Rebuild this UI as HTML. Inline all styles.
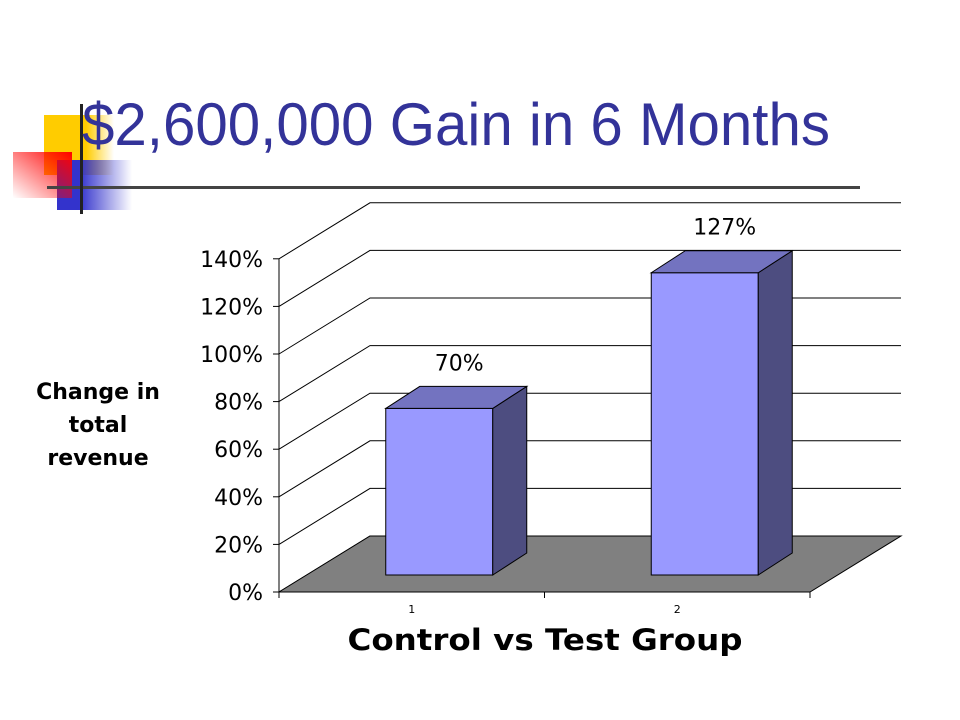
<!DOCTYPE html>
<html><head><meta charset="utf-8"><style>
body{margin:0;background:#fff;width:960px;height:720px;overflow:hidden}
svg{display:block;font-family:"DejaVu Sans","Liberation Sans",sans-serif}
</style></head><body>
<svg id="c" width="960" height="720">
<defs>
<linearGradient id="gy" x1="0" x2="1"><stop offset="0.6" stop-color="#ffcc00"/><stop offset="1" stop-color="#ffcc00" stop-opacity="0"/></linearGradient>
<linearGradient id="gr" x1="1" y1="0" x2="0" y2="1"><stop offset="0" stop-color="#ff0000"/><stop offset="1" stop-color="#ff0000" stop-opacity="0"/></linearGradient>
<linearGradient id="gb" x1="0" x2="1"><stop offset="0.3" stop-color="#3333cc"/><stop offset="1" stop-color="#3333cc" stop-opacity="0"/></linearGradient>
</defs>
<g>
<rect x="44" y="115" width="70" height="60" fill="url(#gy)"/>
<rect x="57" y="160" width="75" height="50" fill="url(#gb)"/>
<rect x="13" y="152" width="59" height="46" fill="url(#gr)"/>
<rect x="47" y="186" width="813" height="3" fill="#444"/>
<rect x="80" y="104" width="3" height="110" fill="#222"/>
</g>
<text x="82" y="145" font-size="60" fill="#333399" font-family="Liberation Sans, sans-serif" textLength="748" lengthAdjust="spacingAndGlyphs">$2,600,000 Gain in 6 Months</text>
<g id="plot"></g>
<text x="98" y="399" font-size="22" font-weight="bold" text-anchor="middle"><tspan x="98">Change in</tspan><tspan x="98" dy="33">total</tspan><tspan x="98" dy="33">revenue</tspan></text>
<text x="545" y="650" font-size="29" font-weight="bold" text-anchor="middle" textLength="395" lengthAdjust="spacingAndGlyphs">Control vs Test Group</text>
</svg>
<script>
const categories=["1","2"];
const values=[70,127];
const valueLabels=["70%","127%"];
const yTicks=[0,20,40,60,80,100,120,140];
const NS="http://www.w3.org/2000/svg";
const g=document.getElementById('plot');
function mk(t,a,p){const e=document.createElementNS(NS,t);for(const k in a)e.setAttribute(k,a[k]);(p||g).appendChild(e);return e;}
const x0=279,x1=810,y0=592,dx=91,dy=-56,ppu=47.6/20;
const y=v=>y0-v*ppu;
yTicks.forEach((t,i)=>{
 const l=mk('polyline',{points:`${x0},${y(t)} ${x0+dx},${y(t)+dy} ${x1+dx},${y(t)+dy}`,fill:'none',stroke:'#000','stroke-width':1});
 
 
 const tk=mk('line',{x1:x0-6,y1:y(t),x2:x0,y2:y(t),stroke:'#000'});
 
 
 const tx=mk('text',{x:263,y:y(t)+8,'font-size':22,'text-anchor':'end'});tx.textContent=t+'%';
 
 
});
const fl=mk('polygon',{points:`${x0},${y0} ${x0+dx},${y0+dy} ${x1+dx},${y0+dy} ${x1},${y0}`,fill:'#808080',stroke:'#000'});


const ya=mk('line',{x1:x0,y1:y(140),x2:x0,y2:y0,stroke:'#000'});


const xa=mk('line',{x1:x0,y1:y0,x2:x1,y2:y0,stroke:'#000'});


const n=categories.length,cw=(x1-x0)/n,bw=107,bd=34,bh=-22,base=575;
for(let i=0;i<=n;i++){const t=mk('line',{x1:x0+i*cw,y1:y0,x2:x0+i*cw,y2:y0+6,stroke:'#000'});
 
 }
categories.forEach((c,i)=>{
 const bx=x0+cw*i+cw/2-26, top=base-values[i]*ppu;
 const grp=mk('g',{});
 
 
 mk('rect',{x:bx,y:top,width:bw,height:base-top,fill:'#9999ff',stroke:'#000'},grp);
 mk('polygon',{points:`${bx+bw},${top} ${bx+bw+bd},${top+bh} ${bx+bw+bd},${base+bh} ${bx+bw},${base}`,fill:'#4d4d80',stroke:'#000'},grp);
 mk('polygon',{points:`${bx},${top} ${bx+bd},${top+bh} ${bx+bw+bd},${top+bh} ${bx+bw},${top}`,fill:'#7373c0',stroke:'#000'},grp);
 const lb=mk('text',{x:bx+bw/2+20,y:top+bh-16,'font-size':22,'text-anchor':'middle'});lb.textContent=valueLabels[i];
 
 
 const cl=mk('text',{x:x0+cw*i+cw/2,y:613,'font-size':11,'text-anchor':'middle'});cl.textContent=c;
 
 
});
</script>
</body></html>
